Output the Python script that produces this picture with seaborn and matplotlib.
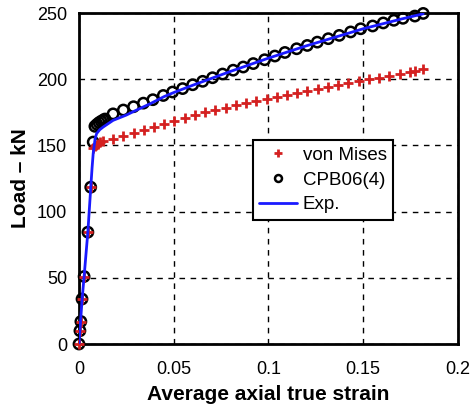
import numpy as np
import pandas as pd
import matplotlib
matplotlib.use("Agg")
import matplotlib.pyplot as plt
import seaborn as sns
from matplotlib.lines import Line2D

# ---- data ----
vm_strain = [0.0, 0.0005, 0.001, 0.0016, 0.0027, 0.0047, 0.0062, 0.0075, 0.0082, 0.0090,
             0.0100, 0.0112, 0.0128, 0.0180, 0.0234, 0.0288, 0.0342, 0.0396, 0.0450, 0.0504,
             0.0558, 0.0612, 0.0666, 0.0720, 0.0774, 0.0828, 0.0882, 0.0936, 0.0990, 0.1044,
             0.1098, 0.1152, 0.1206, 0.1260, 0.1314, 0.1368, 0.1422, 0.1476, 0.1530, 0.1584,
             0.1638, 0.1692, 0.1746, 0.1773, 0.1817]
vm_load = [0.0, 10.0, 17.0, 34.0, 51.0, 84.5, 118.5, 148.0, 149.5, 150.5,
           151.5, 152.5, 153.3, 154.6, 156.8, 159.3, 161.6, 164.0, 166.4, 168.8,
           171.0, 173.1, 175.0, 176.8, 178.6, 180.3, 182.0, 183.6, 185.2, 186.8,
           188.3, 189.8, 191.3, 192.8, 194.3, 195.8, 197.2, 198.8, 200.0, 201.3,
           202.6, 203.9, 205.2, 206.2, 207.5]

cpb_strain = [0.0, 0.0005, 0.001, 0.0016, 0.0027, 0.0047, 0.0062, 0.0075, 0.0084, 0.0095,
              0.0106, 0.0117, 0.0128, 0.0137, 0.0180, 0.0234, 0.0288, 0.0340, 0.0390, 0.0445,
              0.0494, 0.0547, 0.0600, 0.0653, 0.0705, 0.0758, 0.0814, 0.0867, 0.0920, 0.0980,
              0.1034, 0.1087, 0.1149, 0.1205, 0.1258, 0.1316, 0.1374, 0.1434, 0.1487, 0.1550,
              0.1606, 0.1662, 0.1710, 0.1773, 0.1817]
cpb_load = [0.0, 10.0, 17.0, 34.0, 51.0, 84.5, 118.5, 152.6, 164.5, 166.0,
            167.3, 168.3, 169.2, 170.0, 173.9, 176.8, 179.3, 182.0, 184.6, 187.8,
            190.4, 193.0, 195.9, 198.5, 201.2, 204.0, 206.9, 209.3, 211.9, 214.8,
            217.6, 220.3, 223.1, 225.6, 228.1, 230.7, 233.2, 235.8, 238.2, 240.3,
            242.6, 244.6, 246.1, 247.8, 249.8]

exp_strain = [0.0, 0.0016, 0.0027, 0.0047, 0.0062, 0.0069, 0.0075, 0.0085, 0.0093, 0.0110,
              0.0128, 0.0180, 0.0250, 0.0300, 0.0375, 0.0450, 0.0500, 0.0600, 0.0800, 0.1000,
              0.1200, 0.1500, 0.1700, 0.1817]
exp_load = [0.0, 33.0, 51.0, 85.0, 118.0, 133.0, 144.0, 155.0, 159.0, 162.0,
            164.0, 169.0, 173.0, 176.5, 181.5, 187.0, 190.0, 195.5, 206.0, 216.0,
            225.3, 238.2, 245.5, 249.5]

x_ticks = [0, 0.05, 0.1, 0.15, 0.2]
x_tick_labels = ["0", "0.05", "0.1", "0.15", "0.2"]
y_ticks = [0, 50, 100, 150, 200, 250]

vm_df = pd.DataFrame({"strain": vm_strain, "load": vm_load})
cpb_df = pd.DataFrame({"strain": cpb_strain, "load": cpb_load})
exp_df = pd.DataFrame({"strain": exp_strain, "load": exp_load})

sns.set_style("white")
plt.rcParams["font.family"] = ["Liberation Sans", "DejaVu Sans"]
plt.rcParams["text.color"] = "black"
plt.rcParams["axes.labelcolor"] = "black"
plt.rcParams["xtick.color"] = "black"
plt.rcParams["ytick.color"] = "black"

fig = plt.figure(figsize=(4.73, 4.11), dpi=100)
ax = fig.add_axes([0.167, 0.163, 0.801, 0.805])

red = "#d42020"
blue = "#1a1aff"

sns.scatterplot(data=cpb_df, x="strain", y="load", ax=ax, marker="o",
                facecolor="none", edgecolor="black", linewidth=1.8, s=55, zorder=3,
                clip_on=False)
sns.scatterplot(data=vm_df, x="strain", y="load", ax=ax, marker="+",
                color=red, linewidth=2.0, s=45, zorder=4, clip_on=False)
sns.lineplot(data=exp_df, x="strain", y="load", ax=ax, color=blue,
             linewidth=2.0, sort=False, zorder=5)

ax.set_xlim(0, 0.2)
ax.set_ylim(0, 250)
ax.set_xticks(x_ticks)
ax.set_xticklabels(x_tick_labels)
ax.set_yticks(y_ticks)
ax.tick_params(direction="in", length=4, width=1, labelsize=13, colors="black")
ax.tick_params(axis="x", pad=12)
ax.tick_params(axis="y", pad=8.5)
ax.grid(True, color="black", linestyle=(0, (4, 4)), linewidth=1.0)
for sp in ax.spines.values():
    sp.set_color("black")
    sp.set_linewidth(2.0)
    sp.set_visible(True)

ax.set_xlabel("Average axial true strain", fontsize=15, fontweight="bold", labelpad=5,
              color="black")
ax.set_ylabel("Load \u2013 kN", fontsize=15, fontweight="bold", labelpad=5, color="black")

handles = [
    Line2D([], [], linestyle="none", marker="+", color=red, markeredgewidth=2, markersize=6),
    Line2D([], [], linestyle="none", marker="o", markerfacecolor="none",
           markeredgecolor="black", markeredgewidth=1.8, markersize=5),
    Line2D([], [], color=blue, linewidth=2),
]
leg = ax.legend(handles, ["von Mises", "CPB06(4)", "Exp."], loc="upper left",
                bbox_to_anchor=(0.459, 0.616), fontsize=13.5, frameon=True,
                fancybox=False, edgecolor="black", framealpha=1,
                handlelength=2.0, handletextpad=0.3, borderpad=0.35,
                labelspacing=0.4, borderaxespad=0)
leg.get_frame().set_linewidth(1.5)
for t in leg.get_texts():
    t.set_color("black")

fig.savefig("out.png", dpi=100)
